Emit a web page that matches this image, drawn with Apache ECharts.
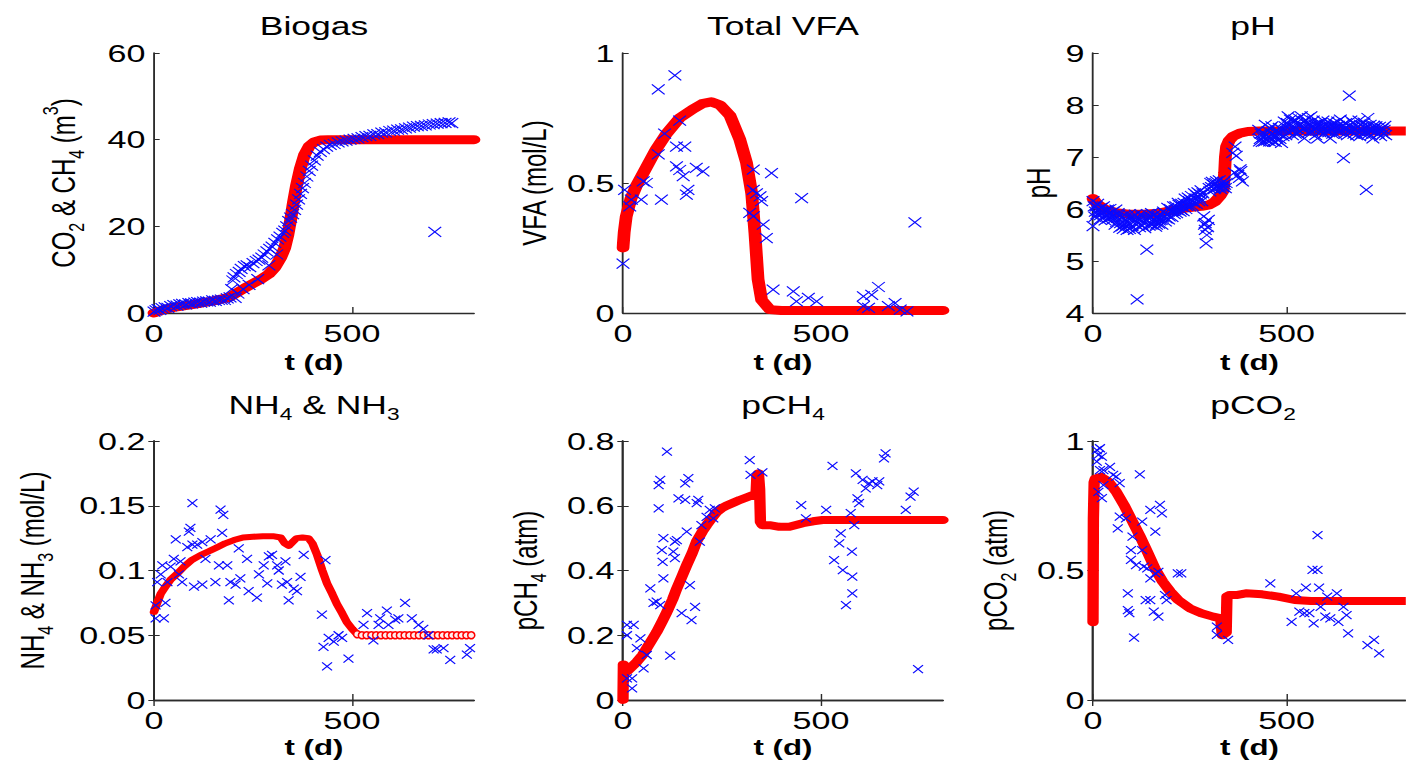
<!DOCTYPE html>
<html>
<head>
<meta charset="utf-8">
<title>Digester model vs. measurements</title>
<script src="https://cdn.jsdelivr.net/npm/echarts@6/dist/echarts.min.js"></script>
<style>
  html, body { margin: 0; padding: 0; background: #fff; overflow: hidden; }
  #wrap { width: 1406px; height: 765px; overflow: hidden; }
  /* the figure is drawn in a narrower box and widened horizontally */
  #chart { width: 990px; height: 765px; transform: scaleX(1.42); transform-origin: 0 0; }
</style>
</head>
<body>
<div id="wrap"><div id="chart"></div></div>
<script>
// ---------- time axis ----------
const xMax = 808;
const xTicks = [0, 500];

// ---------- Biogas: cumulative CO2 & CH4 (m3) ----------
const biogasModel = [[0,0],[25,0.8],[50,1.3],[100,2.0],[150,2.8],[190,3.6],[210,4.7],[230,5.8],[250,6.8],[270,7.8],[290,9.0],[305,10.5],[320,12.8],[330,15.0],[338,18.0],[345,21.5],[352,25.5],[360,29.5],[370,33.5],[380,36.5],[392,38.5],[405,39.5],[420,39.9],[440,40],[600,40],[808,40]];
const biogasData = [[0,0.3],[5,0.6],[10,0.9],[15,0.7],[20,1.1],[28,1.3],[35,1.2],[42,1.6],[50,1.8],[58,1.7],[65,2.0],[72,2.1],[80,2.0],[88,2.3],[95,2.2],[103,2.4],[110,2.5],[118,2.4],[125,2.6],[133,2.7],[140,2.6],[148,2.9],[155,2.8],[163,3.0],[170,3.1],[178,3.0],[185,3.4],[192,3.6],[196,5.5],[199,7.5],[202,8.2],[205,3.5],[208,9.0],[212,4.5],[215,9.5],[220,10.2],[225,5.5],[228,10.8],[235,11.0],[240,6.5],[242,10.6],[250,11.5],[258,12.0],[262,7.8],[265,12.3],[272,12.8],[278,13.5],[285,14.2],[290,11.0],[292,14.8],[298,15.3],[305,16.2],[310,13.5],[312,17.0],[318,17.6],[325,18.5],[330,19.0],[335,20.0],[340,21.2],[345,22.0],[350,22.8],[355,23.8],[360,25.0],[365,26.2],[370,27.5],[375,28.8],[380,30.0],[386,31.5],[392,32.8],[398,34.0],[405,35.2],[412,36.3],[420,37.2],[428,37.8],[436,38.4],[445,38.8],[455,39.0],[465,39.4],[475,39.6],[485,39.8],[495,40.0],[505,40.2],[515,40.3],[525,40.6],[535,40.8],[545,40.9],[555,41.2],[565,41.3],[575,41.6],[585,41.7],[595,42.0],[605,42.1],[615,42.3],[625,42.4],[635,42.6],[645,42.8],[655,43.0],[665,43.1],[675,43.2],[685,43.3],[695,43.5],[705,43.6],[715,43.7],[725,43.8],[735,43.9],[745,44.0],[752,43.8],[709,18.7]];

// ---------- Total VFA (mol/L) ----------
const vfaModel = [[0,0.25],[3,0.31],[8,0.37],[20,0.44],[34,0.49],[59,0.56],[84,0.63],[110,0.69],[143,0.75],[177,0.785],[200,0.805],[223,0.812],[245,0.80],[270,0.76],[295,0.667],[312,0.577],[325,0.46],[333,0.31],[341,0.13],[350,0.05],[371,0.013],[400,0.01],[808,0.01]];
const vfaData = [[0,0.19],[4,0.474],[17,0.41],[21,0.436],[46,0.436],[51,0.506],[59,0.5],[89,0.86],[131,0.914],[89,0.61],[97,0.436],[105,0.69],[143,0.74],[135,0.64],[156,0.64],[135,0.564],[143,0.55],[152,0.526],[164,0.474],[160,0.455],[185,0.558],[202,0.545],[329,0.551],[375,0.538],[329,0.474],[337,0.46],[346,0.449],[350,0.43],[320,0.385],[329,0.372],[354,0.34],[362,0.288],[451,0.442],[737,0.349],[379,0.09],[430,0.083],[438,0.045],[468,0.058],[489,0.045],[607,0.064],[628,0.07],[645,0.1],[607,0.026],[620,0.02],[670,0.026],[687,0.038],[700,0.013],[717,0.006]];

// ---------- pH ----------
const phModel = [[0,6.2],[10,6.1],[30,6.0],[60,5.93],[90,5.9],[130,5.9],[170,5.92],[210,5.98],[250,6.03],[280,6.05],[300,6.08],[315,6.14],[328,6.25],[336,6.35],[340,6.7],[342,7.0],[345,7.2],[352,7.32],[362,7.4],[380,7.46],[400,7.49],[430,7.5],[500,7.5],[808,7.5]];
const phData = [[0,6.15],[0,5.67],[3,6.05],[5,5.85],[6,5.95],[8,6.05],[10,5.9],[12,6.1],[13,5.96],[16,6.0],[18,5.8],[19,5.88],[21,6.02],[23,5.95],[25,5.93],[27,6.05],[29,5.86],[31,5.78],[33,5.97],[36,5.88],[38,5.99],[40,5.82],[42,5.9],[44,6.0],[46,5.92],[48,5.85],[50,5.79],[52,5.95],[54,5.86],[57,5.7],[59,5.99],[61,5.75],[63,5.83],[65,5.92],[67,5.89],[69,5.64],[71,5.73],[74,5.85],[76,5.67],[78,5.62],[80,5.75],[82,5.88],[84,5.79],[86,5.68],[88,5.6],[90,5.74],[92,5.89],[94,5.62],[96,5.7],[98,5.82],[101,5.67],[103,5.86],[105,5.79],[107,5.6],[109,5.89],[112,5.7],[114,4.26],[116,5.82],[118,5.73],[120,5.65],[122,5.8],[124,5.9],[126,5.86],[128,5.68],[130,5.73],[134,5.63],[137,5.8],[139,5.22],[141,5.9],[143,5.83],[145,5.68],[147,5.72],[149,5.85],[151,5.92],[153,5.7],[155,5.8],[158,5.88],[160,5.76],[162,5.66],[164,5.7],[166,5.82],[168,5.86],[170,5.72],[172,5.78],[174,5.9],[176,5.79],[178,5.7],[180,5.84],[182,5.95],[185,5.92],[187,5.76],[189,5.82],[191,5.9],[193,6.02],[195,5.8],[197,5.86],[200,6.0],[202,5.95],[204,5.85],[206,5.96],[208,6.05],[210,5.9],[212,5.98],[214,6.05],[216,5.92],[218,5.98],[220,6.12],[222,6.08],[225,5.95],[227,5.99],[229,6.1],[231,6.04],[233,5.96],[235,6.12],[238,6.2],[240,6.0],[242,6.06],[244,6.09],[246,6.22],[248,6.15],[250,6.05],[252,6.18],[254,6.25],[256,6.06],[258,6.15],[260,6.12],[262,6.3],[265,6.2],[267,6.1],[269,6.25],[271,6.32],[273,6.15],[275,6.22],[277,6.28],[279,6.36],[281,6.15],[284,6.3],[286,5.86],[288,5.7],[290,5.73],[290,5.6],[292,5.34],[294,5.5],[296,5.65],[298,5.79],[300,6.4],[302,6.34],[304,6.5],[306,6.42],[308,6.52],[311,6.47],[313,6.38],[315,6.4],[317,6.5],[319,6.53],[321,6.42],[323,6.45],[326,6.55],[328,6.43],[330,6.38],[332,6.5],[334,6.45],[336,6.42],[338,6.52],[340,6.47],[342,6.4],[344,6.5],[361,7.08],[365,6.7],[367,7.2],[370,7.02],[374,6.65],[378,6.6],[380,6.76],[382,6.73],[386,6.53],[428,7.52],[430,7.3],[432,7.35],[434,7.45],[437,7.29],[439,7.38],[441,7.45],[443,7.3],[445,7.62],[448,7.42],[450,7.32],[452,7.5],[454,7.4],[456,7.3],[458,7.55],[460,7.35],[462,7.59],[464,7.45],[466,7.3],[468,7.42],[471,7.29],[473,7.38],[475,7.5],[477,7.33],[479,7.45],[481,7.56],[483,7.35],[485,7.45],[487,7.27],[489,7.52],[491,7.4],[494,7.68],[496,7.59],[498,7.42],[500,7.5],[502,7.65],[504,7.78],[506,7.48],[508,7.6],[510,7.72],[513,7.52],[515,7.42],[517,7.68],[519,7.58],[521,7.72],[523,7.45],[525,7.55],[527,7.66],[529,7.45],[531,7.75],[533,7.62],[535,7.5],[538,7.78],[540,7.6],[542,7.55],[544,7.68],[546,7.36],[548,7.5],[550,7.7],[552,7.58],[554,7.65],[556,7.75],[558,7.48],[560,7.6],[563,7.78],[565,7.5],[567,7.6],[569,7.7],[571,7.52],[573,7.62],[575,7.42],[577,7.55],[580,7.36],[582,7.65],[584,7.58],[586,7.48],[588,7.65],[590,7.56],[592,7.5],[594,7.7],[597,7.45],[599,7.55],[601,7.62],[603,7.5],[605,7.59],[607,7.68],[609,7.48],[611,7.56],[613,7.36],[615,7.62],[617,7.55],[619,7.45],[622,7.65],[624,7.55],[626,7.45],[628,7.58],[630,7.52],[632,7.68],[634,7.6],[636,7.5],[639,7.72],[641,7.58],[643,7.5],[645,7.62],[647,6.98],[649,7.55],[651,7.45],[653,7.65],[655,7.52],[657,7.42],[660,7.6],[662,8.18],[664,7.5],[666,7.7],[668,7.48],[670,7.56],[672,7.65],[674,7.45],[677,7.55],[679,7.62],[681,7.42],[683,7.5],[685,7.58],[687,7.7],[689,7.4],[691,7.62],[693,7.52],[695,7.45],[697,7.59],[700,7.66],[702,7.45],[704,7.55],[706,6.37],[708,7.6],[710,7.75],[712,7.45],[714,7.52],[716,7.62],[718,7.42],[720,7.5],[723,7.36],[725,7.6],[727,7.55],[729,7.48],[731,7.59],[734,7.5],[737,7.45],[740,7.58],[743,7.4],[746,7.5],[748,7.55],[750,7.45],[752,7.52],[754,7.6],[756,7.42]];

// ---------- NH4 & NH3 (mol/L) ----------
const nh4Model = [[0,0.068],[8,0.075],[17,0.082],[30,0.088],[42,0.093],[60,0.098],[76,0.103],[95,0.108],[118,0.112],[140,0.115],[160,0.118],[180,0.121],[202,0.1235],[225,0.1255],[250,0.126],[275,0.1265],[300,0.1265],[320,0.1255],[330,0.121],[340,0.119],[350,0.122],[360,0.125],[375,0.1255],[390,0.125],[400,0.121],[412,0.112],[425,0.1],[437,0.09],[450,0.082],[462,0.074],[475,0.067],[487,0.06],[500,0.055],[513,0.0508],[525,0.05],[537,0.05],[549,0.05],[561,0.05],[573,0.05],[585,0.05],[597,0.05],[609,0.05],[621,0.05],[633,0.05],[645,0.05],[657,0.05],[669,0.05],[681,0.05],[693,0.05],[705,0.05],[717,0.05],[729,0.05],[741,0.05],[753,0.05],[765,0.05],[777,0.05],[789,0.05],[801,0.05]];
const nh4Data = [[4,0.063],[4,0.073],[8,0.091],[17,0.097],[21,0.104],[25,0.063],[29,0.075],[34,0.091],[42,0.103],[50,0.109],[55,0.124],[63,0.097],[67,0.107],[71,0.091],[84,0.118],[88,0.13],[92,0.133],[97,0.152],[97,0.12],[101,0.0875],[109,0.12],[122,0.089],[122,0.122],[130,0.109],[143,0.124],[155,0.091],[164,0.104],[168,0.147],[175,0.143],[172,0.129],[185,0.104],[189,0.077],[193,0.091],[206,0.089],[218,0.094],[214,0.117],[235,0.109],[239,0.084],[260,0.079],[265,0.097],[277,0.104],[286,0.09],[290,0.111],[298,0.112],[311,0.104],[315,0.1],[323,0.089],[332,0.107],[336,0.091],[340,0.077],[353,0.086],[361,0.084],[370,0.095],[378,0.112],[424,0.066],[433,0.108],[428,0.041],[437,0.026],[441,0.048],[454,0.045],[466,0.05],[475,0.048],[491,0.032],[529,0.058],[538,0.067],[554,0.046],[567,0.058],[571,0.063],[588,0.069],[592,0.058],[609,0.062],[617,0.063],[634,0.075],[651,0.063],[668,0.058],[680,0.055],[693,0.05],[706,0.039],[714,0.039],[731,0.04],[748,0.031],[790,0.035],[798,0.04]];
const nh4SteadyFrom = 513; // model settles here; steady part drawn as open rings

// ---------- pCH4 (atm) ----------
const pch4Model = [[0,0],[1,0.11],[4,0.088],[10,0.088],[20,0.1],[35,0.118],[50,0.14],[60,0.16],[75,0.19],[85,0.21],[100,0.245],[110,0.27],[125,0.31],[136,0.345],[150,0.385],[161,0.417],[175,0.455],[186,0.49],[200,0.52],[211,0.54],[225,0.563],[236,0.58],[250,0.593],[261,0.6],[280,0.61],[295,0.618],[315,0.627],[328,0.633],[336,0.637],[338,0.69],[342,0.7],[345,0.65],[347,0.55],[352,0.54],[370,0.54],[395,0.535],[420,0.535],[454,0.546],[480,0.552],[504,0.556],[563,0.556],[700,0.556],[808,0.556]];
const pch4Data = [[10,0.232],[10,0.2],[27,0.232],[10,0.067],[23,0.067],[23,0.036],[35,0.16],[44,0.19],[52,0.098],[60,0.139],[69,0.345],[77,0.3],[85,0.304],[94,0.293],[90,0.664],[94,0.68],[90,0.592],[98,0.463],[102,0.5],[100,0.427],[102,0.376],[111,0.767],[119,0.137],[127,0.458],[131,0.489],[131,0.438],[136,0.494],[140,0.623],[148,0.268],[157,0.618],[157,0.669],[165,0.685],[161,0.52],[169,0.355],[173,0.247],[182,0.288],[186,0.608],[190,0.618],[194,0.489],[198,0.54],[211,0.566],[219,0.587],[232,0.592],[228,0.561],[320,0.741],[322,0.695],[352,0.703],[450,0.602],[462,0.561],[513,0.587],[529,0.723],[533,0.432],[546,0.484],[550,0.515],[555,0.401],[563,0.293],[575,0.577],[578,0.458],[579,0.381],[579,0.329],[584,0.54],[588,0.7],[592,0.623],[596,0.608],[605,0.68],[613,0.654],[621,0.669],[630,0.675],[642,0.664],[647,0.675],[659,0.746],[663,0.762],[714,0.587],[726,0.628],[734,0.644],[745,0.095]];

// ---------- pCO2 (atm) ----------
const pco2Model = [[0,0.3],[1,0.7],[3,0.84],[6,0.855],[20,0.862],[40,0.843],[60,0.804],[80,0.753],[100,0.695],[120,0.637],[140,0.573],[160,0.508],[180,0.457],[200,0.418],[220,0.386],[250,0.354],[280,0.335],[310,0.322],[330,0.315],[334,0.25],[344,0.26],[346,0.4],[352,0.405],[370,0.405],[395,0.412],[437,0.408],[479,0.399],[521,0.386],[563,0.382],[808,0.382]];
const pco2Data = [[10,0.965],[14,0.946],[18,0.972],[23,0.94],[10,0.92],[18,0.888],[44,0.9],[52,0.869],[60,0.862],[69,0.837],[27,0.888],[27,0.83],[23,0.779],[14,0.804],[121,0.871],[69,0.708],[85,0.701],[64,0.663],[127,0.689],[148,0.734],[173,0.753],[178,0.721],[161,0.65],[102,0.631],[98,0.579],[98,0.541],[111,0.521],[131,0.515],[140,0.508],[127,0.579],[148,0.47],[161,0.489],[169,0.495],[219,0.489],[228,0.489],[90,0.412],[90,0.347],[94,0.335],[106,0.241],[136,0.386],[148,0.386],[157,0.341],[169,0.322],[186,0.405],[190,0.386],[320,0.283],[320,0.251],[349,0.232],[458,0.45],[513,0.302],[525,0.412],[533,0.341],[546,0.335],[550,0.434],[559,0.335],[567,0.502],[570,0.296],[580,0.637],[580,0.502],[584,0.434],[588,0.36],[600,0.322],[605,0.399],[613,0.315],[630,0.412],[634,0.302],[647,0.36],[655,0.328],[659,0.257],[709,0.212],[726,0.232],[739,0.18]];

// ---------- layout (chart units; the element is widened by S) ----------
const S = 1.42;
const colLeft = [154, 623, 1093].map(v => v / S);
const plotW = 320 / S;
const rowTop = [53, 441];
const plotH = [260, 259];
const titleY = [26, 405];

const FONT = '"Liberation Sans", Arial, Helvetica, sans-serif';
const RED = '#ff0000';
const BLUE = '#0a0aff';
const AXIS = '#2b2b2b';
const CROSS = 'path://M0 0L10 10M10 0L0 10';

function richSet(size) {
  return {
    n: { fontFamily: FONT, fontSize: size, lineHeight: 34, color: '#000' },
    s: { fontFamily: FONT, fontSize: 16, lineHeight: 18, verticalAlign: 'bottom', color: '#000' },
    p: { fontFamily: FONT, fontSize: 16, lineHeight: 18, verticalAlign: 'top', color: '#000' }
  };
}

const panels = [
  { title: '{n|Biogas}', yName: '{n|CO}{s|2}{n| & CH}{s|4}{n| (m}{p|3}{n|)}', yMin: 0, yMax: 60, yStep: 20, gap: 47,
    model: biogasModel, data: biogasData, lw: 9, mk: [9, 10], box: false },
  { title: '{n|Total VFA}', yName: '{n|VFA (mol/L)}', yMin: 0, yMax: 1, yStep: 0.5, gap: 46,
    model: vfaModel, data: vfaData, lw: 9, mk: [9, 10], box: false },
  { title: '{n|pH}', yName: '{n|pH}', yMin: 4, yMax: 9, yStep: 1, gap: 22,
    model: phModel, data: phData, lw: 9, mk: [9, 10], box: false },
  { title: '{n|NH}{s|4}{n| & NH}{s|3}', yName: '{n|NH}{s|4}{n| & NH}{s|3}{n| (mol/L)}', yMin: 0, yMax: 0.2, yStep: 0.05, gap: 69,
    model: nh4Model.filter(d => d[0] <= nh4SteadyFrom), rings: nh4Model.filter(d => d[0] >= nh4SteadyFrom),
    data: nh4Data, lw: 6, mk: [7, 8], box: true },
  { title: '{n|pCH}{s|4}', yName: '{n|pCH}{s|4}{n| (atm)}', yMin: 0, yMax: 0.8, yStep: 0.2, gap: 52,
    model: pch4Model, data: pch4Data, lw: 8, mk: [7, 8], box: true },
  { title: '{n|pCO}{s|2}', yName: '{n|pCO}{s|2}{n| (atm)}', yMin: 0, yMax: 1, yStep: 0.5, gap: 52,
    model: pco2Model, data: pco2Data, lw: 8, mk: [7, 8], box: true }
];

const grid = [], xAxis = [], yAxis = [], series = [], graphic = [];

panels.forEach((p, i) => {
  const col = i % 3, row = Math.floor(i / 3);
  grid.push({ left: colLeft[col], top: rowTop[row], width: plotW, height: plotH[row], containLabel: false });

  const xi = xAxis.length, yi = yAxis.length;
  xAxis.push({
    type: 'value', gridIndex: i, min: 0, max: xMax, position: 'bottom',
    axisLine: { show: true, lineStyle: { color: AXIS, width: 1.3 } },
    axisTick: { show: true, inside: true, length: 6, customValues: xTicks, lineStyle: { color: AXIS, width: 1 } },
    axisLabel: { customValues: xTicks, fontFamily: FONT, fontSize: 24, color: '#000', margin: 8 },
    splitLine: { show: false },
    name: 't (d)', nameLocation: 'middle', nameGap: row === 0 ? 39 : 37,
    nameTextStyle: { fontFamily: FONT, fontSize: 22, fontWeight: 'bold', color: '#000' }
  });
  yAxis.push({
    type: 'value', gridIndex: i, min: p.yMin, max: p.yMax, interval: p.yStep, position: 'left',
    axisLine: { show: true, lineStyle: { color: AXIS, width: 1.3 } },
    axisTick: { show: true, inside: true, length: 4, lineStyle: { color: AXIS, width: 1 } },
    axisLabel: { fontFamily: FONT, fontSize: 24, color: '#000', margin: 6 },
    splitLine: { show: false },
    name: p.yName, nameLocation: 'middle', nameGap: p.gap,
    nameTextStyle: { fontFamily: FONT, fontSize: 24, color: '#000', rich: richSet(24) }
  });

  if (p.box) {
    xAxis.push({
      type: 'value', gridIndex: i, min: 0, max: xMax, position: 'top',
      axisLine: { show: true, lineStyle: { color: AXIS, width: 1.3 } },
      axisTick: { show: true, inside: true, length: 6, customValues: xTicks, lineStyle: { color: AXIS, width: 1 } },
      axisLabel: { show: false }, splitLine: { show: false }
    });
    yAxis.push({
      type: 'value', gridIndex: i, min: p.yMin, max: p.yMax, interval: p.yStep, position: 'right',
      axisLine: { show: true, lineStyle: { color: AXIS, width: 1.3 } },
      axisTick: { show: true, inside: true, length: 4, lineStyle: { color: AXIS, width: 1 } },
      axisLabel: { show: false }, splitLine: { show: false }
    });
  }

  // model curve
  series.push({
    type: 'line', xAxisIndex: xi, yAxisIndex: yi, data: p.model, clip: false,
    showSymbol: false,
    lineStyle: { color: RED, width: p.lw, cap: 'round', join: 'round' },
    silent: true, z: 2
  });
  // steady-state tail drawn as a chain of open rings
  if (p.rings) {
    series.push({
      type: 'line', xAxisIndex: xi, yAxisIndex: yi, data: p.rings, clip: false,
      showSymbol: true, showAllSymbol: true, symbol: 'circle', symbolSize: [5, 7],
      itemStyle: { color: '#ffecec', borderColor: RED, borderWidth: 1.3 },
      lineStyle: { color: RED, width: 1 },
      silent: true, z: 2
    });
  }
  // measurements
  series.push({
    type: 'scatter', xAxisIndex: xi, yAxisIndex: yi, data: p.data, clip: false,
    symbol: CROSS, symbolSize: p.mk,
    itemStyle: { color: BLUE, borderColor: BLUE, borderWidth: 1, opacity: 1 },
    silent: true, z: 3
  });

  graphic.push({
    type: 'text',
    x: colLeft[col] + plotW / 2, y: titleY[row],
    style: {
      text: p.title, rich: richSet(25), fontFamily: FONT, fontSize: 25, fill: '#000',
      align: 'center', verticalAlign: 'middle'
    },
    silent: true
  });
});

const chart = echarts.init(document.getElementById('chart'), null, { renderer: 'svg' });
chart.setOption({
  animation: false,
  backgroundColor: '#ffffff',
  grid, xAxis, yAxis, series, graphic
});
</script>
</body>
</html>
